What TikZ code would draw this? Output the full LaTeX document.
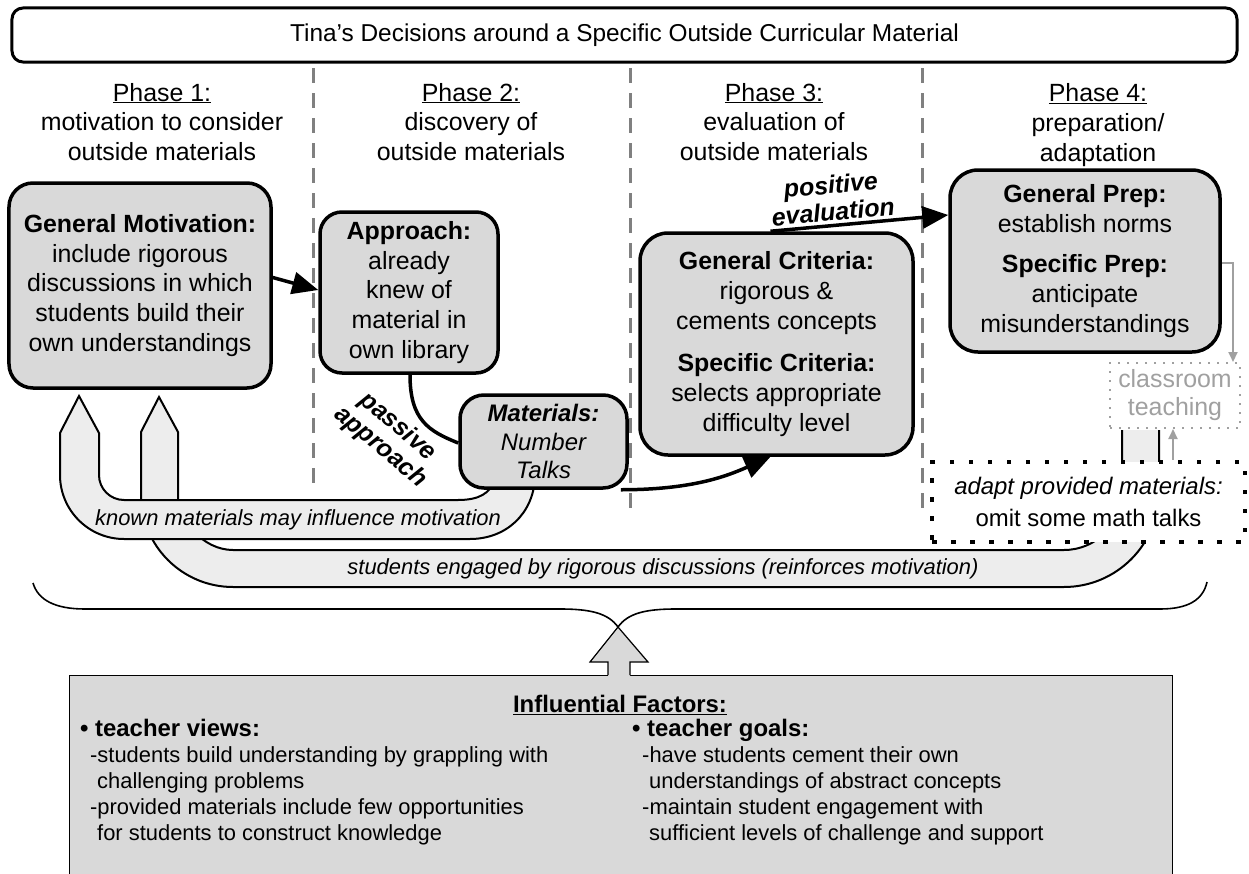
\documentclass[tikz,border=0pt]{standalone}
\usepackage{fontspec}
\setmainfont{Liberation Sans}
\usetikzlibrary{arrows.meta}
\definecolor{boxfill}{HTML}{D9D9D9}
\definecolor{bandfill}{HTML}{EDEDED}
\definecolor{sepgray}{HTML}{808080}
\definecolor{softgray}{HTML}{A0A0A0}
\newcommand\setfs[2]{\fontsize{#1}{#2}\selectfont}
\newcommand\factorheadfont{\bfseries\setfs{24}{26}}
\begin{document}
\begin{tikzpicture}[x=1bp, y=-1bp,
  stagebox/.style={draw, line width=3.5bp, rounded corners=24bp, fill=boxfill,
    align=center, inner sep=0pt, font=\setfs{25}{30}},
  phasehead/.style={align=center, inner sep=0pt, font=\setfs{25}{30}},
  phasesep/.style={draw=sepgray, line width=3bp, dash pattern=on 15bp off 10bp},
  flow/.style={line width=3.5bp, -{Triangle[length=26bp,width=22bp]}},
  link/.style={line width=3.5bp},
  softflow/.style={draw=softgray, line width=2bp, -{Triangle[length=10bp,width=9bp]}},
  band/.style={draw, line width=2bp, fill=bandfill},
  bandtext/.style={font=\itshape\setfs{22}{26}, inner sep=0pt},
  edgelabel/.style={font=\bfseries\itshape\setfs{25}{27}, align=center, inner sep=0pt},
  factortext/.style={anchor=north west, align=left, inner sep=0pt, font=\setfs{22}{26}}
]
\useasboundingbox (0,0) rectangle (1249,874);

% title bar
\node[draw, line width=3bp, rounded corners=11bp, minimum width=1225bp,
  minimum height=54bp, inner sep=0pt, font=\setfs{24.5}{28}] (title) at (624.5,35)
  {Tina’s Decisions around a Specific Outside Curricular Material};

% phase headings
\node[phasehead] (ph1) at (162,122) {\underline{Phase 1:}\\motivation to consider\\outside materials};
\node[phasehead] (ph2) at (471,122) {\underline{Phase 2:}\\discovery of\\outside materials};
\node[phasehead] (ph3) at (774,122) {\underline{Phase 3:}\\evaluation of\\outside materials};
\node[phasehead] (ph4) at (1098,125) {\underline{Phase 4:}\\preparation/\\adaptation};

% phase separators
\draw[phasesep] (313,68) -- (313,487);
\draw[phasesep] (630,68) -- (630,515);
\draw[phasesep] (922,68) -- (922,515);

% feedback band: classroom teaching back to motivation
\path[band] (1122,430) -- (1122,492)
  .. controls (1122,524) and (1096,550) .. (1064,550)
  -- (233,550)
  .. controls (202.6,550) and (178,519.6) .. (178,495)
  -- (178,432) -- (159,397) -- (141,432) -- (141,495)
  .. controls (141,545.8) and (182.2,587) .. (233,587)
  -- (1064,587)
  .. controls (1116.5,587) and (1159,544.5) .. (1159,492)
  -- (1159,430);

% feedback band: known materials back to motivation
\path[band] (495,478) .. controls (491,494) and (478,500) .. (458,500)
  -- (124,500)
  .. controls (110.2,500) and (99,488.8) .. (99,475)
  -- (99,433) -- (79,396) -- (60,433) -- (60,475)
  .. controls (60,510.3) and (88.7,539) .. (124,539)
  -- (470,539)
  .. controls (506,539) and (533,514) .. (535,478);

\node[bandtext] (knowntxt) at (298,520) {known materials may influence motivation};
\node[bandtext] (engagedtxt) at (663,569) {students engaged by rigorous discussions (reinforces motivation)};

% stage boxes
\node[stagebox, minimum width=262bp, minimum height=205bp] (motiv) at (140,285.5)
  {\textbf{General Motivation:}\\include rigorous\\discussions in which\\students build their\\own understandings};
\node[stagebox, rounded corners=22bp, minimum width=178bp, minimum height=161bp] (approach) at (409,292.5)
  {\textbf{Approach:}\\already\\knew of\\material in\\own library};
\node[stagebox, minimum width=167bp, minimum height=93bp, font=\itshape\setfs{24}{28.5}] (materials) at (543.5,441.5)
  {\textbf{Materials:}\\Number\\Talks};
\node[stagebox, rounded corners=28bp, minimum width=273bp, minimum height=222bp] (criteria) at (776.5,344)
  {\textbf{General Criteria:}\\rigorous \&\\cements concepts\\[12bp]\textbf{Specific Criteria:}\\selects appropriate\\difficulty level};
\node[stagebox, rounded corners=28bp, minimum width=270bp, minimum height=182bp] (prep) at (1085,261)
  {\textbf{General Prep:}\\establish norms\\[10bp]\textbf{Specific Prep:}\\anticipate\\misunderstandings};

\node[draw=softgray, line width=2bp, dash pattern=on 2bp off 7bp, fill=white, text=softgray,
  minimum width=130bp, minimum height=65bp, inner sep=0pt, align=center, font=\setfs{25}{28}]
  (class) at (1175,395.5) {classroom\\teaching};
\node[draw, line width=4.5bp, dash pattern=on 4.5bp off 14.5bp, fill=white,
  minimum width=313bp, minimum height=80bp, inner sep=0pt, align=center, font=\setfs{24}{32}]
  (adapt) at (1088.5,502) {\textit{adapt provided materials:}\\omit some math talks};

% connectors between stages
\draw[flow] ([yshift=8bp]motiv.east) -- ([yshift=2.5bp]approach.west);
\draw[link] ([xshift=1bp]approach.south) .. controls +(0,45) and +(-30,-12) .. ([yshift=-1.5bp]materials.west);
\node[edgelabel, rotate=-40] (passive) at (389,437) {passive\\approach};
\draw[flow] ([xshift=-8bp]materials.south east) .. controls +(70,0) and +(-45,20) .. ([xshift=-6bp]criteria.south);
\draw[flow] ([xshift=-6bp]criteria.north) -- ([yshift=46bp]prep.west)
  node[edgelabel, sloped, above=3bp, pos=0.36] (positive) {positive\\evaluation};
\coordinate (rightx) at (1233,0);
\coordinate (upx) at (1173,0);
\draw[softflow] ([yshift=-2bp]prep.east) -| (class.north -| rightx);
\draw[softflow] (adapt.north -| upx) -- (class.south -| upx);

% brace gathering the influential factors
\draw[line width=1.6bp] (33,583) .. controls (38,600) and (55,609) .. (85,609)
  -- (560,609) .. controls (590,609) and (608,613) .. (618,627)
  .. controls (628,613) and (646,609) .. (676,609)
  -- (1160,609) .. controls (1188,609) and (1203,600) .. (1207,582);

% influential factors panel
\node[draw, line width=1.2bp, fill=boxfill, minimum width=1103bp, minimum height=210bp,
  anchor=north west, inner sep=0pt] (factors) at (69,675) {};
\fill[boxfill] (608,677) -- (608,662) -- (590,662) -- (618,627) -- (648,662) -- (630,662) -- (630,677) -- cycle;
\draw[line width=1.2bp] (608,675) -- (608,662) -- (590,662) -- (618,627) -- (648,662) -- (630,662) -- (630,675);

\node[font=\bfseries\setfs{24}{28}, inner sep=0pt] (fhead) at (620,705) {\underline{Influential Factors:}};
\node[factortext] (views) at (80,719)
  {{\factorheadfont • teacher views:}\\
   \hspace*{10bp}-students build understanding by grappling with\\
   \hspace*{17bp}challenging problems\\
   \hspace*{10bp}-provided materials include few opportunities\\
   \hspace*{17bp}for students to construct knowledge};
\node[factortext] (goals) at (632,719)
  {{\factorheadfont • teacher goals:}\\
   \hspace*{10bp}-have students cement their own\\
   \hspace*{17bp}understandings of abstract concepts\\
   \hspace*{10bp}-maintain student engagement with\\
   \hspace*{17bp}sufficient levels of challenge and support};
\end{tikzpicture}
\end{document}
